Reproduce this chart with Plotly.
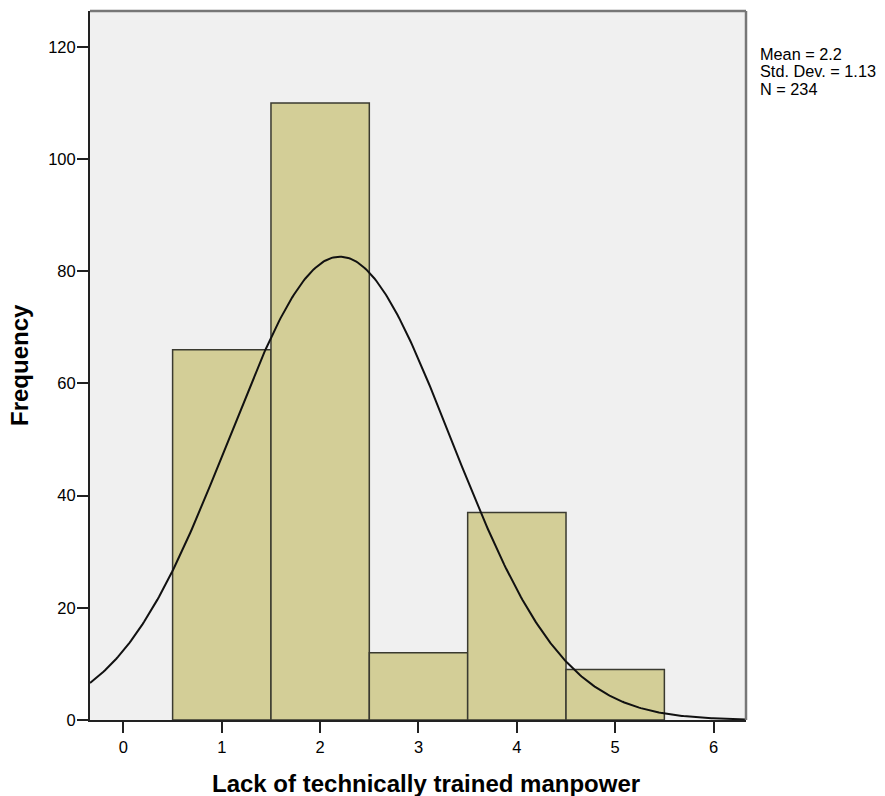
import numpy as np
import plotly.graph_objects as go

categories = [1, 2, 3, 4, 5]
frequencies = [66, 110, 12, 37, 9]
x_tick_vals = [0, 1, 2, 3, 4, 5, 6]
y_tick_vals = [0, 20, 40, 60, 80, 100, 120]

n_total = sum(frequencies)
mean = sum(c * f for c, f in zip(categories, frequencies)) / n_total
sd = np.sqrt(sum(f * (c - mean) ** 2 for c, f in zip(categories, frequencies)) / (n_total - 1))

x_min, x_max = -0.34, 6.33
xs = np.linspace(x_min, x_max, 400)
ys = n_total * 1.0 / (sd * np.sqrt(2 * np.pi)) * np.exp(-0.5 * ((xs - mean) / sd) ** 2)

FONT = "Liberation Sans, Arial, sans-serif"

fig = go.Figure()
fig.add_trace(go.Bar(
    x=categories, y=frequencies, width=1.0,
    marker=dict(color="#D3CE97", line=dict(color="#3a3a30", width=1.5)),
    hoverinfo="skip",
))
fig.add_trace(go.Scatter(
    x=xs, y=ys, mode="lines",
    line=dict(color="#111111", width=2), hoverinfo="skip",
))

stats_lines = [f"Mean = {mean:.1f}", f"Std. Dev. = {sd:.2f}", f"N = {n_total}"]
annotations = []
for i, t in enumerate(stats_lines):
    annotations.append(dict(
        xref="paper", yref="paper", x=1.0, y=1.0, xanchor="left", yanchor="middle",
        xshift=11.5, yshift=-(43 + 17.3 * i), align="left", showarrow=False,
        text=t, font=dict(size=16.3, family=FONT, color="#000"),
    ))
annotations.append(dict(
    xref="paper", yref="paper", x=0.5, y=0.0, xanchor="center", yanchor="middle",
    xshift=8, yshift=-63, showarrow=False,
    text="<b>Lack of technically trained manpower</b>",
    font=dict(size=24, family=FONT, color="#000"),
))
annotations.append(dict(
    xref="paper", yref="paper", x=0.0, y=0.5, xanchor="center", yanchor="middle",
    xshift=-70.5, textangle=-90, showarrow=False,
    text="<b>Frequency</b>",
    font=dict(size=24, family=FONT, color="#000"),
))

fig.update_layout(
    width=885, height=796,
    margin=dict(l=90, r=138.5, t=11, b=76, autoexpand=False),
    paper_bgcolor="white", plot_bgcolor="#F0F0F0",
    showlegend=False, bargap=0,
    font=dict(family=FONT, color="#000000"),
    xaxis=dict(
        range=[x_min, x_max], tickvals=x_tick_vals, ticks="outside", ticklen=11,
        tickwidth=2, tickcolor="#222", showgrid=False, zeroline=False,
        showline=True, linecolor="#222", linewidth=2,
        tickfont=dict(size=16.5), automargin=False,
    ),
    yaxis=dict(
        range=[0, 126.4], tickvals=y_tick_vals, ticks="outside", ticklen=11,
        tickwidth=2, tickcolor="#222", showgrid=False, zeroline=False,
        showline=True, linecolor="#222", linewidth=2,
        tickfont=dict(size=16.5), automargin=False, ticklabelstandoff=-2,
    ),
    shapes=[
        dict(type="line", xref="paper", yref="paper", x0=0, x1=1, y0=1, y1=1,
             line=dict(color="#777777", width=2.5)),
        dict(type="line", xref="paper", yref="paper", x0=1, x1=1, y0=0, y1=1,
             line=dict(color="#777777", width=2.5)),
    ],
    annotations=annotations,
)

fig.write_html(
    "out.html",
    config={"displayModeBar": False, "staticPlot": True},
    post_script="document.body.style.margin='0';document.body.style.overflow='hidden';",
)
